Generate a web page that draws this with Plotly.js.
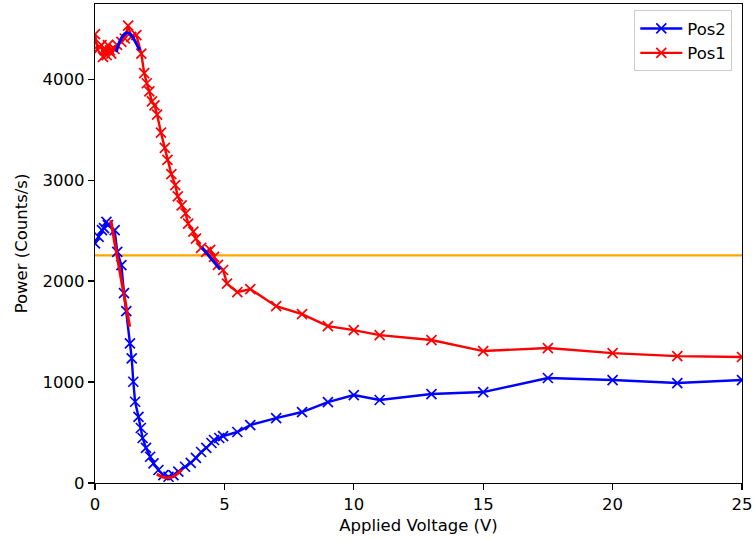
<!DOCTYPE html>
<html>
<head>
<meta charset="utf-8">
<script src="https://cdn.plot.ly/plotly-3.0.1.min.js"></script>
<style>html,body{margin:0;padding:0;background:#fff;}#chart{width:753px;height:542px;}</style>
</head>
<body>
<div id="chart"></div>
<script>
// Pos2 (blue) measurements
const pos2X = [0, 0.14, 0.27, 0.35, 0.44, 0.5, 0.76, 0.86, 1.02, 1.12, 1.21, 1.35, 1.42, 1.48, 1.55, 1.68, 1.77, 1.84, 1.97, 2.13, 2.26, 2.45, 2.64, 2.84, 3.03, 3.22, 3.48, 3.7, 3.9, 4.1, 4.3, 4.5, 4.6, 4.8, 4.95, 5.5, 6, 7, 8, 9, 10, 11, 13, 15, 17.5, 20, 22.5, 25];
const pos2Y = [2373, 2439, 2505, 2525, 2587, 2554, 2505, 2290, 2158, 1881, 1703, 1383, 1234, 1003, 805, 656, 545, 446, 347, 260, 195, 129, 79, 62, 79, 112, 161, 200, 248, 307, 347, 396, 426, 446, 465, 505, 574, 643, 703, 802, 871, 822, 881, 901, 1040, 1020, 990, 1020];

// Pos1 (red) measurements
const pos1X = [0, 0.1, 0.18, 0.25, 0.31, 0.37, 0.45, 0.5, 0.58, 0.63, 0.75, 0.85, 1.02, 1.15, 1.28, 1.4, 1.6, 1.79, 1.9, 2.0, 2.1, 2.2, 2.3, 2.4, 2.55, 2.7, 2.8, 2.95, 3.1, 3.2, 3.35, 3.5, 3.6, 3.8, 3.9, 4.1, 4.3, 4.45, 4.6, 4.75, 4.95, 5.1, 5.5, 6, 7, 8, 9, 10, 11, 13, 15, 17.5, 20, 22.5, 25];
const pos1Y = [4446, 4290, 4320, 4337, 4221, 4287, 4238, 4337, 4287, 4254, 4300, 4340, 4369, 4403, 4530, 4420, 4436, 4254, 4060, 3960, 3880, 3780, 3740, 3650, 3470, 3320, 3200, 3060, 2950, 2840, 2750, 2670, 2570, 2490, 2420, 2330, 2290, 2310, 2240, 2160, 2110, 1975, 1891, 1921, 1752, 1673, 1554, 1515, 1465, 1416, 1307, 1337, 1287, 1257, 1248];

// Fit overlays
const fitPeakX = [0.82, 0.95, 1.08, 1.2, 1.32, 1.45, 1.58, 1.73];
const fitPeakY = [4270, 4370, 4430, 4458, 4455, 4420, 4360, 4287];
const fitDropX = [0.61, 1.34];
const fitDropY = [2604, 1548];
const fitSegX = [4.13, 4.84];
const fitSegY = [2334, 2115];
const fitMinX = [2.39, 2.55, 2.7, 2.84, 3.0, 3.15, 3.35];
const fitMinY = [89, 65, 55, 53, 60, 85, 129];

const thresholdY = 2255;

const xTicks = [0, 5, 10, 15, 20, 25];
const yTicks = [0, 1000, 2000, 3000, 4000];

const BLUE = '#0000ff', RED = '#ff0000', ORANGE = '#ffa500';
const FONT = 'DejaVu Sans';
const FS = 16.5;

const traces = [
  {x: [0, 25], y: [thresholdY, thresholdY], mode: 'lines', line: {color: ORANGE, width: 2.4}, showlegend: false, hoverinfo: 'skip'},
  {x: pos2X, y: pos2Y, name: 'Pos2', mode: 'lines+markers', line: {color: BLUE, width: 2.4},
   marker: {symbol: 'x-thin', size: 10, line: {color: BLUE, width: 1.7}, color: BLUE}},
  {x: pos1X, y: pos1Y, name: 'Pos1', mode: 'lines+markers', line: {color: RED, width: 2.4},
   marker: {symbol: 'x-thin', size: 10, line: {color: RED, width: 1.7}, color: RED}},
  {x: fitPeakX, y: fitPeakY, mode: 'lines', line: {color: BLUE, width: 3, shape: 'spline'}, showlegend: false},
  {x: fitDropX, y: fitDropY, mode: 'lines', line: {color: RED, width: 3}, showlegend: false},
  {x: fitSegX, y: fitSegY, mode: 'lines', line: {color: BLUE, width: 3}, showlegend: false},
  {x: fitMinX, y: fitMinY, mode: 'lines', line: {color: RED, width: 3, shape: 'spline'}, showlegend: false}
];

const axisCommon = {
  showgrid: false, zeroline: false, showline: true, mirror: true,
  linecolor: '#000', linewidth: 1.3, ticks: 'outside', ticklen: 6, tickwidth: 1.3, tickcolor: '#000',
  tickfont: {family: FONT, size: FS, color: '#000'}
};

const layout = {
  width: 753, height: 542,
  margin: {l: 95, r: 11, t: 4, b: 59},
  paper_bgcolor: '#fff', plot_bgcolor: '#fff',
  font: {family: FONT, size: FS, color: '#000'},
  xaxis: Object.assign({}, axisCommon, {range: [0, 25], tickvals: xTicks, ticktext: xTicks.map(String),
    title: {text: 'Applied Voltage (V)', font: {family: FONT, size: FS, color: '#000'}, standoff: 6}}),
  yaxis: Object.assign({}, axisCommon, {range: [0, 4745], tickvals: yTicks, ticktext: yTicks.map(String),
    title: {text: 'Power (Counts/s)', font: {family: FONT, size: FS, color: '#000'}, standoff: 10}}),
  legend: {x: 0.985, y: 0.987, xanchor: 'right', yanchor: 'top', bgcolor: 'rgba(255,255,255,0.8)',
    bordercolor: '#cccccc', borderwidth: 1, itemwidth: 42, font: {family: FONT, size: FS, color: '#000'}},
  showlegend: true
};

Plotly.newPlot('chart', traces, layout, {displayModeBar: false, staticPlot: true});
</script>
</body>
</html>
